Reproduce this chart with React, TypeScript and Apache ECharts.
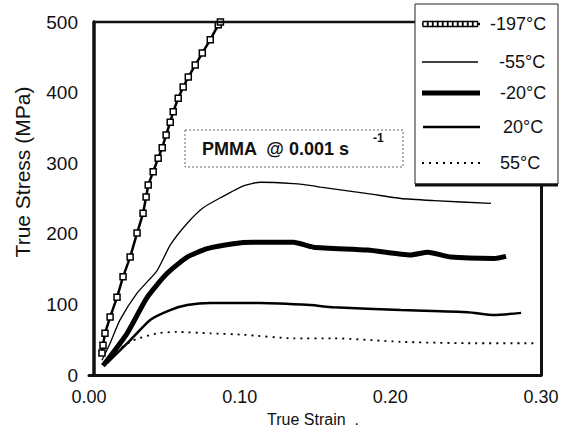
import React, { useEffect, useRef } from "react";
import * as echarts from "echarts";

// ---- Data ----
const xTicks = ["0.00", "0.10", "0.20", "0.30"];
const yTicks = [0, 100, 200, 300, 400, 500];

const strainM197 = [0.0086, 0.0093, 0.0106, 0.014, 0.0186, 0.0226, 0.0273, 0.0319, 0.0359, 0.0379, 0.0393, 0.0426, 0.0459, 0.0486, 0.0512, 0.0539, 0.0559, 0.0592, 0.0625, 0.0659, 0.0705, 0.0752, 0.0805, 0.0858, 0.0872];
const stressM197 = [31, 42, 59, 82, 110, 139, 167, 201, 229, 252, 269, 288, 307, 322, 340, 358, 373, 392, 408, 422, 439, 456, 475, 496, 500];

const strainM55 = [0.0086, 0.014, 0.0206, 0.0319, 0.0452, 0.0539, 0.0652, 0.0758, 0.0872, 0.1025, 0.1138, 0.1357, 0.149, 0.1537, 0.185, 0.207, 0.229, 0.2668];
const stressM55 = [21, 45, 78, 116, 148, 184, 215, 237, 251, 268, 273, 271, 268, 266, 257, 250, 247, 243];

const strainM20 = [0.0093, 0.0253, 0.0386, 0.0519, 0.0652, 0.0785, 0.0958, 0.1091, 0.1357, 0.149, 0.185, 0.2136, 0.2249, 0.2402, 0.2688, 0.2768];
const stressM20 = [13, 59, 110, 144, 167, 179, 186, 188, 188, 181, 177, 170, 174, 167, 165, 168];

const strainP20 = [0.012, 0.0273, 0.0406, 0.0539, 0.0652, 0.0805, 0.1138, 0.147, 0.1623, 0.2069, 0.2515, 0.2688, 0.2868];
const stressP20 = [17, 49, 78, 92, 99, 102, 102, 99, 96, 92, 89, 85, 88];

const strainP55 = [0.014, 0.0293, 0.0452, 0.0585, 0.0805, 0.1025, 0.1357, 0.1623, 0.2069, 0.2515, 0.2954];
const stressP55 = [28, 49, 59, 61, 59, 57, 52, 52, 47, 45, 45];

const legendLabels = ["-197°C", "-55°C", "-20°C", "20°C", "55°C"];
const title = "PMMA  @ 0.001 s";
const titleSup = "-1";

const pairs = (xs: number[], ys: number[]) => xs.map((x, i) => [x, ys[i]]);

const FONT = '"Liberation Sans", Arial, Helvetica, sans-serif';

export default function App() {
  const ref = useRef<HTMLDivElement>(null);

  useEffect(() => {
    if (!ref.current) return;
    const chart = echarts.init(ref.current, undefined, { renderer: "svg" });

    // legend art
    const legendY = [24, 62, 93, 127, 163];
    const legendTextX = [490, 499, 500, 503, 500];
    const squares: any[] = [];
    for (let x = 423; x <= 476; x += 5) {
      squares.push({
        type: "rect",
        z: 102,
        shape: { x: x, y: legendY[0] - 2.5, width: 4.5, height: 5 },
        style: { fill: "#fff", stroke: "#000", lineWidth: 1.3 },
      });
    }

    const option: any = {
      animation: false,
      backgroundColor: "#fff",
      grid: { left: 89, right: 22, top: 22, bottom: 55 },
      xAxis: [
        {
          type: "value",
          min: 0,
          max: 0.3,
          interval: 0.1,
          axisLine: { show: true, lineStyle: { color: "#111", width: 3 } },
          axisTick: { show: false },
          splitLine: { show: false },
          axisLabel: {
            margin: 13,
            fontSize: 18,
            fontFamily: FONT,
            color: "#111",
            formatter: (v: number) => xTicks[Math.round(v * 10)] ?? "",
          },
        },
      ],
      yAxis: [
        {
          type: "value",
          min: 0,
          max: 500,
          interval: 100,
          offset: -5,
          axisLine: { show: true, lineStyle: { color: "#111", width: 3.5 } },
          axisTick: { show: false },
          splitLine: { show: false },
          axisLabel: {
            margin: 16,
            fontSize: 19,
            fontFamily: FONT,
            color: "#111",
            formatter: (v: number) => (yTicks.includes(v) ? String(v) : ""),
          },
        },
        {
          type: "value",
          position: "right",
          min: 0,
          max: 500,
          interval: 100,
          axisLine: { show: true, lineStyle: { color: "#111", width: 3 } },
          axisTick: { show: false },
          axisLabel: { show: false },
          splitLine: { show: false },
        },
      ],
      series: [
        {
          name: legendLabels[0],
          type: "line",
          data: pairs(strainM197, stressM197),
          showSymbol: true,
          symbol: "rect",
          symbolSize: 6,
          itemStyle: { color: "#fff", borderColor: "#000", borderWidth: 1.5 },
          lineStyle: { color: "#000", width: 2.5 },
        },
        {
          name: legendLabels[1],
          type: "line",
          data: pairs(strainM55, stressM55),
          showSymbol: false,
          smooth: 0.2,
          lineStyle: { color: "#000", width: 1.3 },
        },
        {
          name: legendLabels[2],
          type: "line",
          data: pairs(strainM20, stressM20),
          showSymbol: false,
          smooth: 0.2,
          lineStyle: { color: "#000", width: 5 },
        },
        {
          name: legendLabels[3],
          type: "line",
          data: pairs(strainP20, stressP20),
          showSymbol: false,
          smooth: 0.2,
          lineStyle: { color: "#000", width: 2.5 },
        },
        {
          name: legendLabels[4],
          type: "line",
          data: pairs(strainP55, stressP55),
          showSymbol: false,
          smooth: 0.2,
          lineStyle: { color: "#000", width: 1.8, type: [2, 5] },
        },
      ],
      graphic: [
        // top frame line
        {
          type: "line",
          z: 50,
          shape: { x1: 93, y1: 22, x2: 416, y2: 22 },
          style: { stroke: "#111", lineWidth: 2.5 },
        },
        // y axis name
        {
          type: "text",
          z: 50,
          x: 22,
          y: 172,
          rotation: Math.PI / 2,
          style: {
            text: "True Stress (MPa)",
            fontSize: 21,
            fontFamily: FONT,
            fill: "#111",
            align: "center",
            verticalAlign: "middle",
          },
        },
        // x axis name
        {
          type: "text",
          z: 50,
          x: 313,
          y: 419,
          style: {
            text: "True Strain  .",
            fontSize: 16,
            fontFamily: FONT,
            fill: "#111",
            align: "center",
            verticalAlign: "middle",
          },
        },
        // annotation box
        {
          type: "rect",
          z: 60,
          shape: { x: 185, y: 130, width: 218, height: 37 },
          style: { fill: "#fff", stroke: "#666", lineWidth: 1, lineDash: [2, 2] },
        },
        {
          type: "text",
          z: 61,
          x: 202,
          y: 149,
          style: {
            text: title,
            fontSize: 18,
            fontWeight: "bold",
            fontFamily: FONT,
            fill: "#111",
            align: "left",
            verticalAlign: "middle",
          },
        },
        {
          type: "text",
          z: 61,
          x: 373,
          y: 138,
          style: {
            text: titleSup,
            fontSize: 12,
            fontWeight: "bold",
            fontFamily: FONT,
            fill: "#111",
            align: "left",
            verticalAlign: "middle",
          },
        },
        // legend box
        {
          type: "rect",
          z: 100,
          shape: { x: 415, y: 4, width: 143, height: 180 },
          style: { fill: "#fff", stroke: "#222", lineWidth: 1 },
        },
        {
          type: "line",
          z: 101,
          shape: { x1: 415, y1: 185, x2: 558, y2: 185 },
          style: { stroke: "#111", lineWidth: 3 },
        },
        {
          type: "line",
          z: 101,
          shape: { x1: 422, y1: legendY[0], x2: 480, y2: legendY[0] },
          style: { stroke: "#000", lineWidth: 2.5 },
        },
        ...squares,
        {
          type: "line",
          z: 101,
          shape: { x1: 422, y1: legendY[1], x2: 478, y2: legendY[1] },
          style: { stroke: "#000", lineWidth: 1.3 },
        },
        {
          type: "line",
          z: 101,
          shape: { x1: 422, y1: legendY[2], x2: 480, y2: legendY[2] },
          style: { stroke: "#000", lineWidth: 5 },
        },
        {
          type: "line",
          z: 101,
          shape: { x1: 423, y1: legendY[3], x2: 480, y2: legendY[3] },
          style: { stroke: "#000", lineWidth: 2.5 },
        },
        {
          type: "line",
          z: 101,
          shape: { x1: 422, y1: legendY[4], x2: 480, y2: legendY[4] },
          style: { stroke: "#000", lineWidth: 1.8, lineDash: [2, 5] },
        },
        ...legendLabels.map((t, i) => ({
          type: "text",
          z: 102,
          x: legendTextX[i],
          y: legendY[i],
          style: {
            text: t,
            fontSize: 18,
            fontFamily: FONT,
            fill: "#111",
            align: "left",
            verticalAlign: "middle",
          },
        })),
      ],
    };

    chart.setOption(option);
    return () => chart.dispose();
  }, []);

  return (
    <div
      ref={ref}
      style={{ position: "fixed", left: 0, top: 0, width: 563, height: 430, background: "#fff" }}
    />
  );
}
